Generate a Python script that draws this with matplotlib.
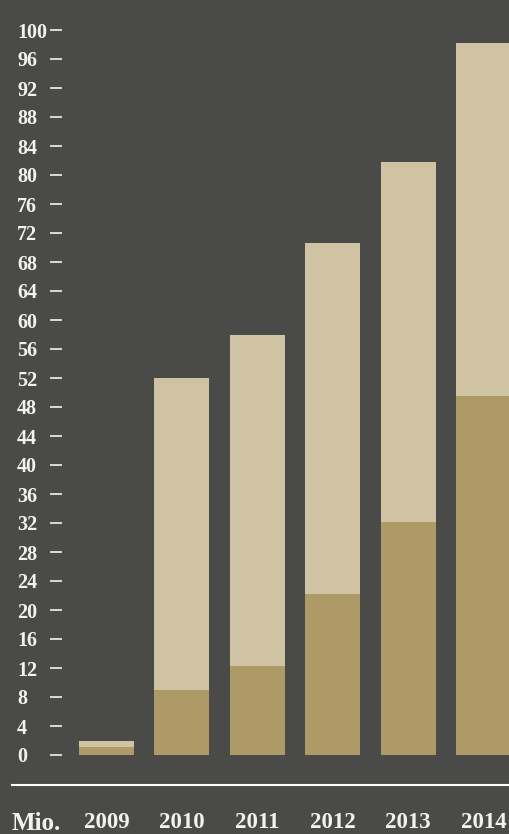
import matplotlib
matplotlib.use('Agg')
import matplotlib.pyplot as plt
from matplotlib.lines import Line2D

years = ['2009', '2010', '2011', '2012', '2013', '2014']
lower = [1.1, 9.0, 12.3, 22.2, 32.1, 49.5]
total = [1.9, 52.0, 57.9, 70.6, 81.8, 98.2]
upper = [t - b for t, b in zip(total, lower)]
yticks = list(range(0, 101, 4))

bg = '#4a4a48'
dark = '#ad9a67'
light = '#d0c3a4'
txt = '#f2f2f0'

plt.rcParams['font.family'] = ['Liberation Serif', 'DejaVu Serif']
plt.rcParams['font.weight'] = 'bold'

W, H = 509, 834
fig = plt.figure(figsize=(W / 100, H / 100), dpi=100, facecolor=bg)
ax = fig.add_axes([62 / W, (H - 790) / H, (W - 62) / W, (790 - 30) / H])
ax.set_facecolor(bg)

x = list(range(len(years)))
ax.bar(x, lower, width=0.729, color=dark)
ax.bar(x, upper, bottom=lower, width=0.729, color=light)

ax.set_xlim(-0.590, 5.338)
ax.set_ylim(-35 / 7.25, 100)

for s in ax.spines.values():
    s.set_visible(False)

px = 72 / 100
ax.set_yticks(yticks)
ax.set_yticklabels([str(v) for v in yticks])
ax.tick_params(axis='y', length=12 * px, width=2 * px, color='#d6d6d4',
               pad=33 * px, labelsize=14.5, labelcolor=txt)
for lab in ax.get_yticklabels():
    lab.set_horizontalalignment('left')

ax.set_xticks(x)
ax.set_xticklabels(years)
ax.tick_params(axis='x', length=0, pad=33 * px, labelsize=16.5, labelcolor=txt)
for lab in ax.get_xticklabels():
    lab.set_verticalalignment('center')

fig.add_artist(Line2D([12 / W, 1], [1 - 785 / H] * 2, transform=fig.transFigure,
                      color='white', lw=1.5))
fig.text(12 / W, 1 - 823 / H, 'Mio.', ha='left', va='center', fontsize=18,
         color=txt, fontweight='bold')

fig.savefig('out.png', dpi=100, facecolor=bg)
